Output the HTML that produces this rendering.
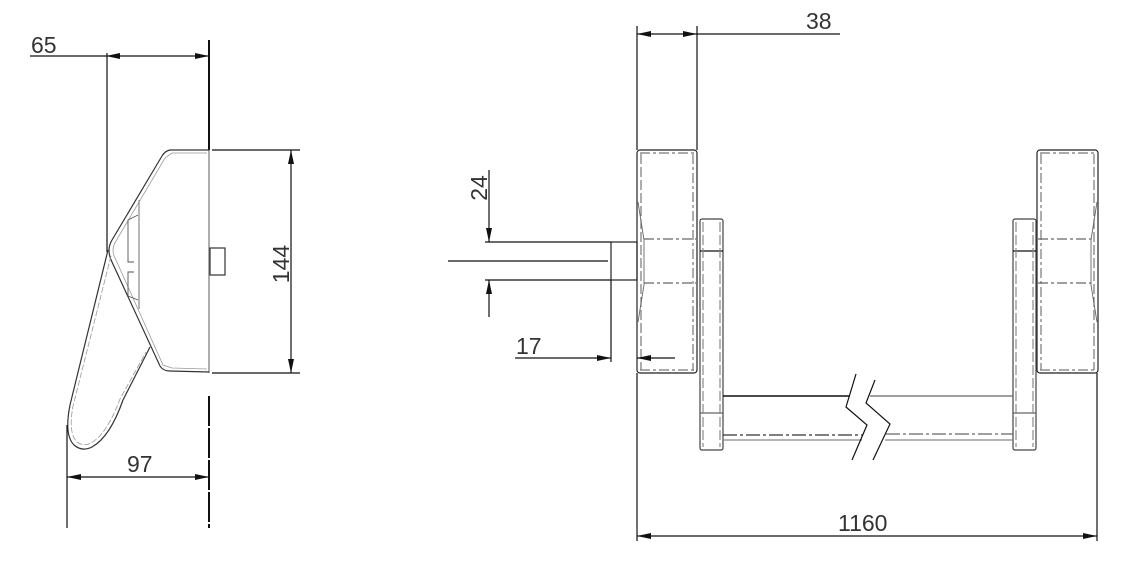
<!DOCTYPE html>
<html><head><meta charset="utf-8"><style>
html,body{margin:0;padding:0;background:#fff;}
svg{display:block;}
text{font-family:"Liberation Sans",sans-serif;font-size:23px;fill:#333;}
</style></head><body>
<svg width="1148" height="567" viewBox="0 0 1148 567" xmlns="http://www.w3.org/2000/svg">
<defs>
<marker id="a" viewBox="0 0 14 6" refX="14" refY="3" markerWidth="14" markerHeight="6" markerUnits="userSpaceOnUse" orient="auto-start-reverse"><path d="M0,0 L14,3 L0,6 z" fill="#111"/></marker>
</defs>
<g stroke="#111" stroke-width="1.2" fill="none">
<line x1="209" y1="40" x2="209" y2="150" stroke-width="2"/>
<line x1="209" y1="150" x2="209" y2="373" stroke="#777"/>
<line x1="209" y1="396" x2="209" y2="528" stroke-width="2" stroke-dasharray="30,2"/>
<line x1="30" y1="56" x2="106" y2="56"/>
<line x1="106" y1="56" x2="209" y2="56" marker-start="url(#a)" marker-end="url(#a)"/>
<line x1="107" y1="53" x2="107" y2="252"/>
<path d="M209,150 L170,150 Q165,151 162,156 L112,240 Q106,250 112,262 L160,366 Q163,371 170,371 L209,372" stroke="#333"/>
<path d="M207,153 L172,153 L165,158 L116,241 Q110,250 116,260 L163,365 L172,368 L207,369" stroke="#999" stroke-width="0.8"/>
<line x1="139" y1="200" x2="139" y2="309" stroke="#888"/>
<path d="M138,215 L128,220 L128,262 L134,262 M134,272 L128,272 L128,296 L138,300" stroke="#555" stroke-width="0.9"/>
<path d="M108,250 L70,405 Q64,435 74,445 Q82,452 92,447 Q110,437 123,400 L150,347" stroke="#333"/>
<path d="M111,256 L73,406 Q68,433 77,442 Q84,447 91,443 Q107,434 120,399 L146,352" stroke="#999" stroke-width="0.8" stroke-dasharray="6,2"/>
<rect x="210" y="248" width="15" height="27" stroke="#333"/>
<line x1="212" y1="150" x2="300" y2="150"/>
<line x1="212" y1="373" x2="300" y2="373"/>
<line x1="291" y1="150" x2="291" y2="373" marker-start="url(#a)" marker-end="url(#a)"/>
<line x1="67" y1="425" x2="67" y2="528"/>
<line x1="67" y1="477" x2="209" y2="477" marker-start="url(#a)" marker-end="url(#a)"/>

<line x1="637" y1="26" x2="637" y2="150"/>
<line x1="697" y1="26" x2="697" y2="150"/>
<line x1="637" y1="34" x2="697" y2="34" marker-start="url(#a)" marker-end="url(#a)"/>
<line x1="697" y1="34" x2="840" y2="34"/>
<line x1="637" y1="373" x2="637" y2="541"/>
<line x1="1097" y1="373" x2="1097" y2="541"/>
<line x1="637" y1="536" x2="1097" y2="536" marker-start="url(#a)" marker-end="url(#a)"/>
<rect x="637" y="150" width="60" height="223" rx="3" stroke="#222"/>
<line x1="640" y1="153" x2="694" y2="153" stroke="#777" stroke-dasharray="10,3,3,3"/>
<line x1="640" y1="370" x2="694" y2="370" stroke="#777" stroke-dasharray="10,3,3,3"/>
<line x1="641" y1="154" x2="641" y2="370" stroke="#777" stroke-dasharray="10,3"/>
<line x1="693" y1="154" x2="693" y2="370" stroke="#777" stroke-dasharray="10,3,3,3"/>
<path d="M638,202 L644,240 L644,285 L638,322" stroke="#666" stroke-width="0.9"/>
<line x1="644" y1="239" x2="696" y2="239" stroke="#666" stroke-dasharray="10,3,3,3"/>
<line x1="644" y1="283" x2="696" y2="283" stroke="#666" stroke-dasharray="10,3,3,3"/>
<rect x="1037" y="150" width="61" height="223" rx="3" stroke="#222"/>
<line x1="1040" y1="153" x2="1095" y2="153" stroke="#777" stroke-dasharray="10,3,3,3"/>
<line x1="1040" y1="370" x2="1095" y2="370" stroke="#777" stroke-dasharray="10,3,3,3"/>
<line x1="1041" y1="154" x2="1041" y2="370" stroke="#777" stroke-dasharray="10,3,3,3"/>
<line x1="1094" y1="154" x2="1094" y2="370" stroke="#777" stroke-dasharray="10,3"/>
<path d="M1097,202 L1091,240 L1091,285 L1097,322" stroke="#666" stroke-width="0.9"/>
<line x1="1038" y1="239" x2="1091" y2="239" stroke="#666" stroke-dasharray="10,3,3,3"/>
<line x1="1038" y1="283" x2="1091" y2="283" stroke="#666" stroke-dasharray="10,3,3,3"/>
<rect x="700" y="219" width="23" height="231" rx="2" stroke="#444"/>
<line x1="700" y1="251" x2="723" y2="251"/>
<line x1="700" y1="413" x2="723" y2="413" stroke="#666"/>
<line x1="703" y1="222" x2="703" y2="447" stroke="#888" stroke-dasharray="10,3"/>
<line x1="720" y1="222" x2="720" y2="447" stroke="#888" stroke-dasharray="10,3"/>
<rect x="1013" y="219" width="23" height="231" rx="2" stroke="#444"/>
<line x1="1013" y1="251" x2="1036" y2="251"/>
<line x1="1013" y1="413" x2="1036" y2="413" stroke="#666"/>
<line x1="1016" y1="222" x2="1016" y2="447" stroke="#888" stroke-dasharray="10,3"/>
<line x1="1033" y1="222" x2="1033" y2="447" stroke="#888" stroke-dasharray="10,3"/>
<line x1="723" y1="396" x2="850" y2="396" stroke-width="1.4"/>
<line x1="870" y1="396" x2="1013" y2="396" stroke="#666"/>
<line x1="723" y1="435" x2="863" y2="435" stroke="#333" stroke-dasharray="14,3,3,3"/>
<line x1="886" y1="434" x2="1013" y2="434" stroke="#666" stroke-dasharray="14,3,3,3"/>
<line x1="723" y1="440" x2="862" y2="440" stroke="#888"/>
<line x1="885" y1="440" x2="1013" y2="440" stroke="#888"/>
<polyline points="856,374 846,407 867,425 852,460"/>
<polyline points="875,380 866,403 890,424 873,460"/>
<rect x="611" y="242" width="26" height="38" stroke="#222"/>
<line x1="485" y1="242" x2="611" y2="242"/>
<line x1="485" y1="280" x2="611" y2="280"/>
<line x1="448" y1="261" x2="608" y2="261"/>
<line x1="489" y1="170" x2="489" y2="242" marker-end="url(#a)"/>
<line x1="489" y1="317" x2="489" y2="280" marker-end="url(#a)"/>
<line x1="611" y1="280" x2="611" y2="362"/>
<line x1="515" y1="358" x2="611" y2="358" marker-end="url(#a)"/>
<line x1="675" y1="358" x2="637" y2="358" marker-end="url(#a)"/>
</g>
<text x="31" y="53">65</text>
<text x="127" y="472">97</text>
<text x="0" y="0" transform="translate(289,264) rotate(-90)" text-anchor="middle">144</text>
<text x="0" y="0" transform="translate(487,188) rotate(-90)" text-anchor="middle">24</text>
<text x="516" y="354">17</text>
<text x="806" y="29">38</text>
<text x="838" y="531">1160</text>
</svg>
</body></html>
